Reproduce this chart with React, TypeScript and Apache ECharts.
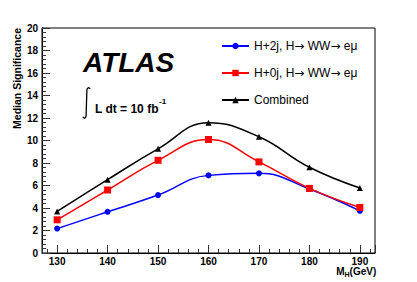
import React, { useEffect, useRef } from "react";
import * as echarts from "echarts";

const masses = [130, 140, 150, 160, 170, 180, 190];
const h2jValues = [2.17, 3.66, 5.15, 6.9, 7.08, 5.69, 3.75];
const h0jValues = [2.95, 5.6, 8.24, 10.09, 8.1, 5.74, 4.05];
const combinedValues = [3.69, 6.52, 9.26, 11.58, 10.33, 7.62, 5.78];
const seriesNames = ["H+2j, H\u2192 WW\u2192 e\u03bc", "H+0j, H\u2192 WW\u2192 e\u03bc", "Combined"];

const FONT = "'Liberation Sans', Arial, Helvetica, sans-serif";

echarts.graphic.registerShape(
  "integralSign",
  echarts.graphic.extendPath(
    "M 7.6 2 C 6.8 0.2 4.6 0.2 4.4 3 L 3.6 28.6 C 3.4 31.6 1.2 31.6 0.4 29.8",
    {}
  )
);

const pairs = (vals: number[]) => masses.map((m, i) => [m, vals[i]]);

export default function App() {
  const ref = useRef<HTMLDivElement>(null);
  useEffect(() => {
    if (!ref.current) return;
    const chart = echarts.init(ref.current, null, { renderer: "svg" });
    const axisLabel = {
      fontFamily: FONT,
      fontWeight: "bold" as const,
      fontSize: 10,
      color: "#000",
    };
    chart.setOption({
      animation: false,
      backgroundColor: "#fff",
      grid: {
        left: 42,
        right: 42,
        top: 28,
        bottom: 29,
        show: true,
        borderColor: "#000",
        borderWidth: 1,
        backgroundColor: "transparent",
      },
      legend: {
        orient: "vertical",
        left: 221,
        top: 39,
        padding: 0,
        itemWidth: 27,
        itemHeight: 8,
        itemGap: 13,
        data: seriesNames,
        formatter: (name: string) => name.replace(/\u2192/g, "{arr|\u2192}"),
        textStyle: {
          fontFamily: FONT,
          fontSize: 12,
          color: "#000",
          lineHeight: 14,
          rich: {
            arr: { fontFamily: "'DejaVu Sans', sans-serif", fontSize: 12, color: "#000", lineHeight: 14 },
          },
        },
      },
      xAxis: {
        type: "value",
        min: 127,
        max: 193,
        splitLine: { show: false },
        axisLine: { show: true, lineStyle: { color: "#000", width: 1 } },
        axisTick: { show: true, inside: true, length: 8, lineStyle: { color: "#333" } },
        minorTick: { show: true, splitNumber: 5, length: 4, lineStyle: { color: "#333" } },
        axisLabel: {
          ...axisLabel,
          margin: 3,
          formatter: (v: number) => (Math.abs(v % 10) < 1e-6 ? String(v) : ""),
        },
      },
      yAxis: {
        type: "value",
        min: 0,
        max: 20,
        interval: 2,
        splitLine: { show: false },
        axisLine: { show: true, lineStyle: { color: "#000", width: 1 } },
        axisTick: { show: true, inside: true, length: 8, lineStyle: { color: "#333" } },
        minorTick: { show: true, splitNumber: 5, length: 4, lineStyle: { color: "#333" } },
        axisLabel: { ...axisLabel, margin: 4 },
      },
      series: [
        {
          name: seriesNames[0],
          type: "line",
          data: pairs(h2jValues),
          smooth: 0.45,
          symbol: "circle",
          symbolSize: 6,
          color: "#0000ff",
          lineStyle: { width: 1.5, color: "#0000ff" },
          itemStyle: { color: "#0000ff" },
        },
        {
          name: seriesNames[1],
          type: "line",
          data: pairs(h0jValues),
          smooth: 0.45,
          symbol: "rect",
          symbolSize: 7,
          color: "#ff0000",
          lineStyle: { width: 1.5, color: "#ff0000" },
          itemStyle: { color: "#ff0000" },
        },
        {
          name: seriesNames[2],
          type: "line",
          data: pairs(combinedValues),
          smooth: 0.45,
          symbol: "triangle",
          symbolSize: 6,
          color: "#000000",
          lineStyle: { width: 1.5, color: "#000000" },
          itemStyle: { color: "#000000" },
        },
      ],
      graphic: [
        {
          type: "text",
          x: 17,
          y: 28,
          rotation: Math.PI / 2,
          style: {
            text: "Median Significance",
            fontFamily: FONT,
            fontWeight: "bold",
            fontSize: 10.5,
            fill: "#000",
            align: "right",
            verticalAlign: "middle",
          },
        },
        {
          type: "text",
          x: 83,
          y: 62.5,
          style: {
            text: "ATLAS",
            fontFamily: FONT,
            fontWeight: "bold",
            fontStyle: "italic",
            fontSize: 28,
            fill: "#000",
            align: "left",
            verticalAlign: "middle",
          },
        },
        {
          type: "integralSign",
          x: 82.5,
          y: 87,
          style: { stroke: "#000", fill: null, lineWidth: 1.3 },
        },
        {
          type: "text",
          x: 95,
          y: 108.5,
          style: {
            text: "L dt = 10 fb",
            fontFamily: FONT,
            fontWeight: "bold",
            fontSize: 12,
            fill: "#000",
            align: "left",
            verticalAlign: "middle",
          },
        },
        {
          type: "text",
          x: 159,
          y: 101.5,
          style: {
            text: "-1",
            fontFamily: FONT,
            fontWeight: "bold",
            fontSize: 8,
            fill: "#000",
            align: "left",
            verticalAlign: "middle",
          },
        },
        {
          type: "text",
          x: 349.6,
          y: 271,
          style: {
            text: "(GeV)",
            fontFamily: FONT,
            fontWeight: "bold",
            fontSize: 10,
            fill: "#000",
            align: "left",
            verticalAlign: "middle",
          },
        },
        {
          type: "text",
          x: 344.5,
          y: 274.5,
          style: {
            text: "H",
            fontFamily: FONT,
            fontWeight: "bold",
            fontSize: 7,
            fill: "#000",
            align: "left",
            verticalAlign: "middle",
          },
        },
        {
          type: "text",
          x: 336.2,
          y: 271,
          style: {
            text: "M",
            fontFamily: FONT,
            fontWeight: "bold",
            fontSize: 10,
            fill: "#000",
            align: "left",
            verticalAlign: "middle",
          },
        },
      ],
    });
    return () => chart.dispose();
  }, []);
  return (
    <div
      ref={ref}
      style={{ position: "fixed", left: 0, top: 0, width: 417, height: 282, background: "#fff" }}
    />
  );
}
